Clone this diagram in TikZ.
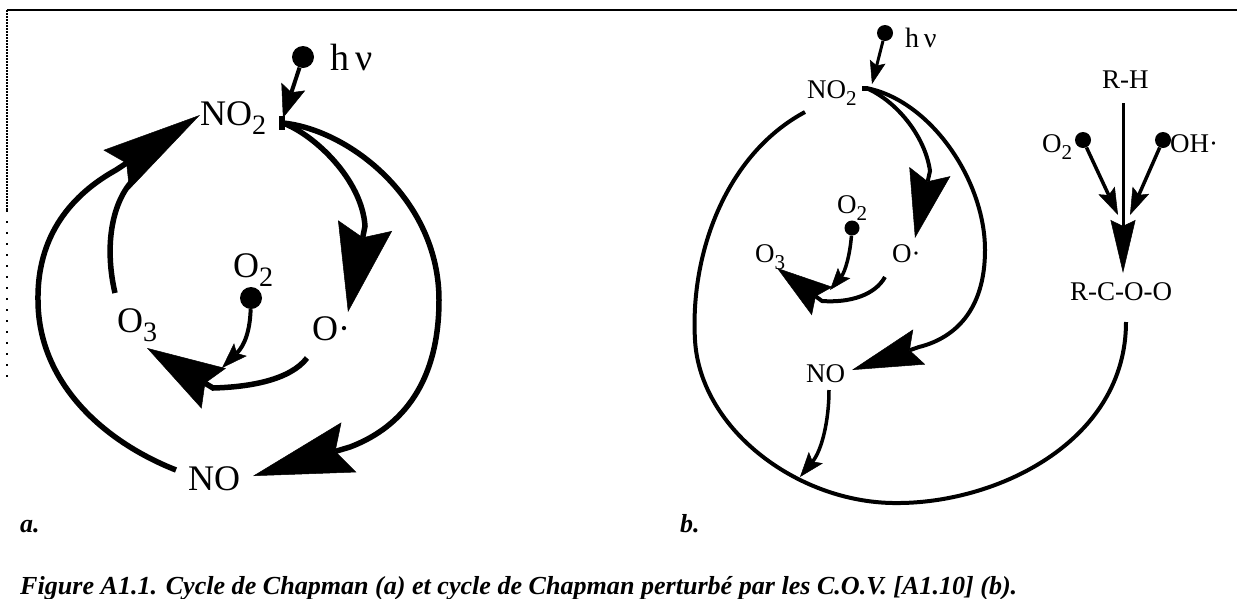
\documentclass[tikz,border=0pt]{standalone}
\usepackage{fontspec}
\setmainfont{Liberation Serif}
\usetikzlibrary{arrows.meta}
\newcommand\chsub[1]{\raisebox{-0.27em}{\scalebox{0.78}{#1}}}
\begin{document}
\begin{tikzpicture}[x=1pt,y=-1pt,
  lbla/.style={inner sep=0pt, anchor=base west, font=\fontsize{36}{40}\selectfont},
  lblb/.style={inner sep=0pt, anchor=base west, font=\fontsize{27}{30}\selectfont},
  tag/.style={inner sep=0pt, anchor=base west, font=\fontsize{26}{28}\selectfont\bfseries\itshape},
  dota/.style={circle, fill=black, inner sep=0pt, minimum size=22pt},
  dotb/.style={circle, fill=black, inner sep=0pt, minimum size=16pt},
  arca/.style={line width=5.5pt},
  arcb/.style={line width=4pt},
  thinarr/.style={line width=3.5pt}
]
\useasboundingbox (0,0) rectangle (1237,598);
% frame
\draw[line width=2pt] (7,10) -- (1237,10);
\draw[line width=1.5pt, dash pattern=on 1.5pt off 1.5pt] (7,10) -- (7,210);
\draw[line width=1.5pt, dash pattern=on 2pt off 9pt] (7,210) -- (7,382);

% ================= panel a =================
\node[lbla] (NO2a) at (200,125) {NO\chsub{2}};
\node[dota] (hvadot) at (303,57) {};
\node[lbla, font=\fontsize{38}{40}\selectfont] (hva) at (330,70) {h\,ν};
\node[lbla] (O2a) at (233,277) {O\chsub{2}};
\node[dota] (O2adot) at (251,298) {};
\node[lbla] (Oa) at (312,340) {O·};
\node[lbla] (O3a) at (117,332) {O\chsub{3}};
\node[lbla] (NOa) at (188,490) {NO};

\coordinate (atop) at (283,118);
\coordinate (asrc) at (283,123);
\coordinate (aNOtip) at (253,476);
\coordinate (aOtip) at (348,312);
\coordinate (aO3tip) at (147,348);
\coordinate (aO2tip) at (222,368);
\coordinate (aNO2tip) at (200,115);
\coordinate (aOstart) at (307,358);
\coordinate (aNOstart) at (176,470);
\coordinate (aO3start) at (115,293);
\coordinate (amerge) at (133,180);

\draw[line width=6pt] (282,116) -- (282,130);
\draw[line width=4pt, -{Stealth[length=33pt,width=25pt,inset=6pt,line width=0.5pt]}] (hvadot) -- (atop);
% NO2 -> NO (outer right)
\draw[arca, -{Stealth[length=100pt,width=52pt,inset=14pt,line width=0.5pt]}]
  (asrc) .. controls (350,130) and (439,200) .. (439,300)
         .. controls (439,390) and (395,430) .. (350,447) -- (aNOtip);
% NO2 -> O.
\draw[arca, -{Stealth[length=88pt,width=55pt,inset=12pt,line width=0.5pt]}]
  (asrc) .. controls (315,135) and (362,180) .. (365,226) -- (aOtip);
% O. -> O3
\draw[arca, -{Stealth[length=78pt,width=47pt,inset=10pt,line width=0.5pt]}]
  (aOstart) .. controls (290,380) and (250,387) .. (213,388) -- (aO3tip);
% O2 -> (O. -> O3)
\draw[line width=4pt, -{Stealth[length=26pt,width=18pt,inset=5pt,line width=0.5pt]}]
  (O2adot) .. controls (250,330) and (245,345) .. (aO2tip);
% NO -> NO2 (outer left)
\draw[arca, -{Stealth[length=100pt,width=47pt,inset=12pt,line width=0.5pt]}]
  (aNOstart) .. controls (100,440) and (38,380) .. (38,300)
             .. controls (37,228) and (80,190) .. (116,170) -- (aNO2tip);
% O3 -> NO2 (inner left)
\draw[arca] (aO3start) .. controls (105,250) and (110,205) .. (amerge);

\node[tag] (la) at (20,532) {a.};

% ================= panel b =================
\node[lblb] (NO2b) at (807,98) {NO\chsub{2}};
\node[dotb] (hvbdot) at (885,33) {};
\node[lblb, font=\fontsize{28}{30}\selectfont] (hvb) at (905,47) {h\,ν};
\node[lblb] (O2b) at (837,213) {O\chsub{2}};
\node[dotb, minimum size=15pt] (O2bdot) at (852,228) {};
\node[lblb] (Ob) at (892,262) {O·};
\node[lblb] (O3b) at (755,262) {O\chsub{3}};
\node[lblb] (NOb) at (806,382) {NO};
\node[lblb] (RH) at (1102,88) {R-H};
\node[lblb] (O2r) at (1042,152) {O\chsub{2}};
\node[dotb] (O2rdot) at (1083,140) {};
\node[dotb] (OHdot) at (1163,140) {};
\node[lblb] (OH) at (1170,152) {OH·};
\node[lblb] (RCOO) at (1070,300) {R-C-O-O};

\coordinate (btop) at (872,84);
\coordinate (bsrc) at (866,88);
\coordinate (bNOtip) at (852,370);
\coordinate (bOtip) at (915,238);
\coordinate (bOstart) at (885,277);
\coordinate (bO3tip) at (777,268);
\coordinate (bO2tip) at (830,290);
\coordinate (bNOstart) at (829,390);
\coordinate (bcirc) at (800,477);
\coordinate (bRHs) at (1123,103);
\coordinate (bRtip) at (1123,273);
\coordinate (bO2rtip) at (1118,215);
\coordinate (bOHtip) at (1130,215);
\coordinate (bcycA) at (805,112);
\coordinate (bcycB) at (1126,322);

\draw[line width=5pt] (862,88) -- (868,88);
\draw[line width=3pt, -{Stealth[length=23pt,width=16pt,inset=4pt,line width=0.5pt]}] (hvbdot) -- (btop);
% NO2 -> NO
\draw[arcb, -{Stealth[length=71pt,width=37pt,inset=10pt,line width=0.5pt]}]
  (bsrc) .. controls (930,100) and (985,180) .. (985,250)
         .. controls (985,310) and (955,338) .. (919,347) -- (bNOtip);
% NO2 -> O.
\draw[arcb, -{Stealth[length=68pt,width=42pt,inset=10pt,line width=0.5pt]}]
  (bsrc) .. controls (895,100) and (925,135) .. (930,171) -- (bOtip);
% O. -> O3
\draw[arcb, -{Stealth[length=56pt,width=35pt,inset=8pt,line width=0.5pt]}]
  (bOstart) .. controls (875,295) and (850,303) .. (822,301) -- (bO3tip);
% O2 -> ...
\draw[thinarr, -{Stealth[length=22pt,width=16pt,inset=4pt,line width=0.5pt]}]
  (O2bdot) .. controls (850,255) and (845,272) .. (bO2tip);
% big cycle arc
\draw[arcb] (bcycA) .. controls (725,155) and (690,255) .. (695,340)
            .. controls (700,430) and (800,505) .. (900,503)
            .. controls (1000,502) and (1126,440) .. (bcycB);
% NO -> cycle
\draw[thinarr, -{Stealth[length=25pt,width=18pt,inset=5pt,line width=0.5pt]}]
  (bNOstart) .. controls (829,420) and (822,450) .. (bcirc);
% R-H -> R-C-O-O
\draw[line width=3pt, -{Stealth[length=53pt,width=25pt,inset=6pt,line width=0.5pt]}] (bRHs) -- (bRtip);
\draw[thinarr, -{Stealth[length=27pt,width=18pt,inset=5pt,line width=0.5pt]}] (O2rdot) -- (bO2rtip);
\draw[thinarr, -{Stealth[length=27pt,width=18pt,inset=5pt,line width=0.5pt]}] (OHdot) -- (bOHtip);

\node[tag] (lb) at (680,532) {b.};

% caption
\node[inner sep=0pt, anchor=base west] (cap) at (20,594)
  {\resizebox{997pt}{\height}{\fontsize{26}{28}\selectfont\bfseries\itshape Figure A1.1. Cycle de Chapman (a) et cycle de Chapman perturbé par les C.O.V. [A1.10] (b).}};
\end{tikzpicture}
\end{document}
